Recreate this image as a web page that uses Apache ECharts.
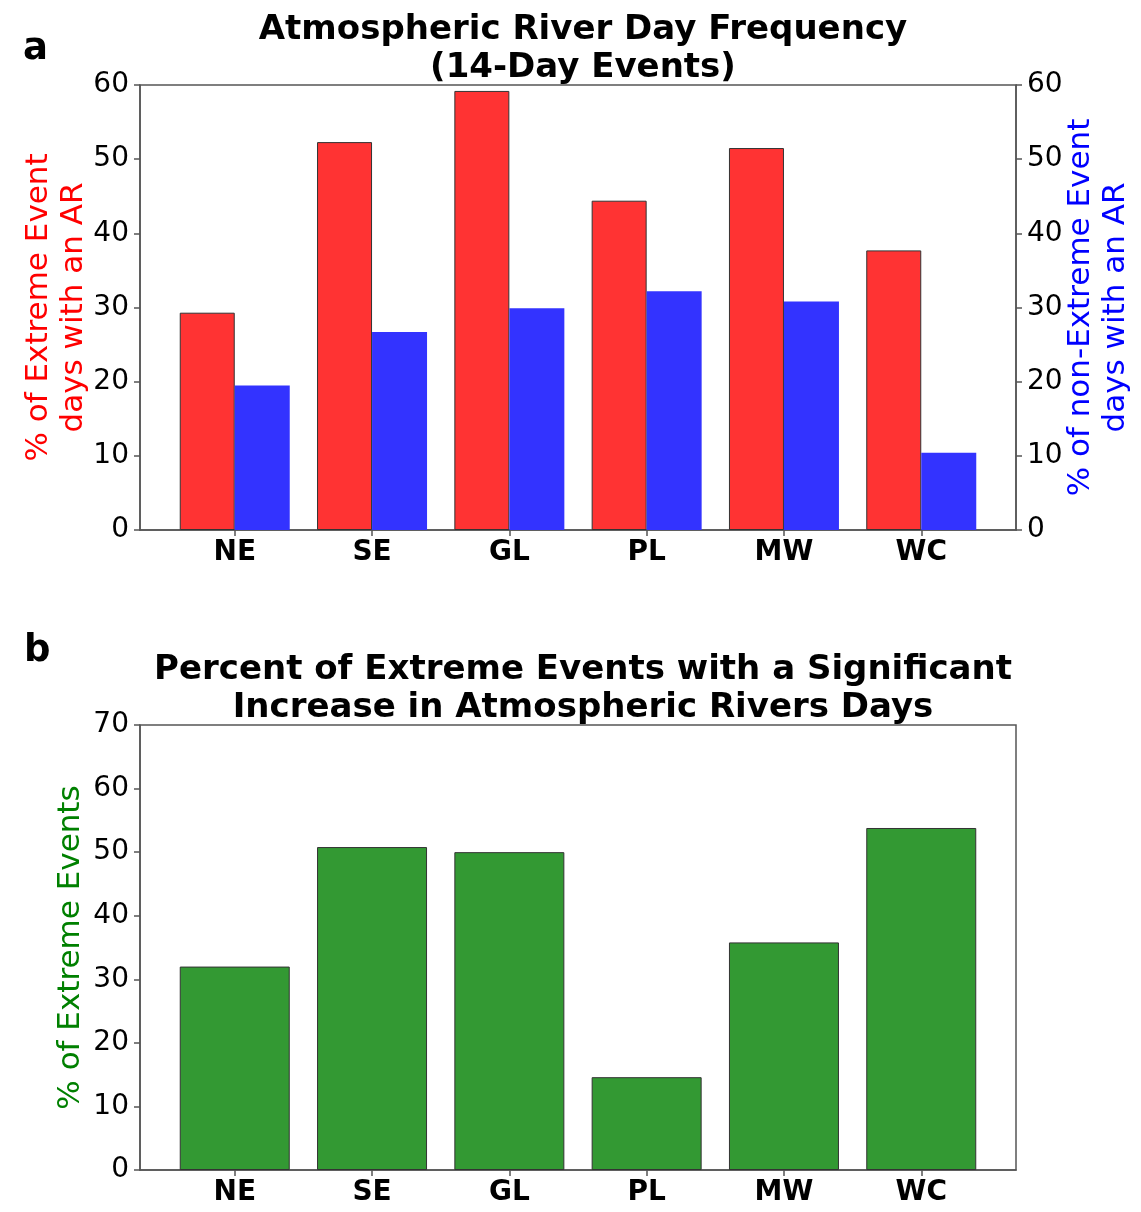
<!DOCTYPE html>
<html>
<head>
<meta charset="utf-8">
<script src="https://cdn.jsdelivr.net/npm/echarts@6/dist/echarts.min.js"></script>
<style>
  html, body { margin: 0; padding: 0; background: #fff; }
  #chart { width: 1141px; height: 1212px; }
</style>
</head>
<body>
<div id="chart"></div>
<script>
// regions on the x axis
var regions = ['NE', 'SE', 'GL', 'PL', 'MW', 'WC'];
// panel a: % of extreme / non-extreme event days with an AR
var extremeAR = [29.3, 52.3, 59.2, 44.4, 51.5, 37.7];
var nonExtremeAR = [19.5, 26.7, 29.9, 32.2, 30.8, 10.4];
// panel b: % of extreme events with a significant increase in AR days
var sigIncrease = [32.0, 50.8, 50.0, 14.6, 35.8, 53.8];
var ticksA = [0, 10, 20, 30, 40, 50, 60];
var ticksB = [0, 10, 20, 30, 40, 50, 60, 70];

var FONT = 'DejaVu Sans';

function pairs(vals) {
    return vals.map(function (v, i) { return [i, v]; });
}

function xAxisFor(gridIndex) {
    var pos = regions.map(function (r, i) { return i; });
    return {
        type: 'value',
        gridIndex: gridIndex,
        min: -0.69,
        max: 5.69,
        minInterval: 1,
        maxInterval: 1,
        splitLine: { show: false },
        axisLine: { show: true, onZero: false, lineStyle: { color: '#555', width: 1.5 } },
        axisTick: { show: true, length: 6, lineStyle: { color: '#555', width: 1.5 }, customValues: pos },
        axisLabel: {
            show: true,
            margin: 9,
            fontFamily: FONT,
            fontSize: 28,
            fontWeight: 'bold',
            color: '#000',
            customValues: pos,
            formatter: function (v) {
                var i = Math.round(v);
                return Math.abs(v - i) < 1e-6 && regions[i] ? regions[i] : '';
            }
        }
    };
}

function yAxisFor(gridIndex, ticks, pos, name, color, gap) {
    return {
        type: 'value',
        gridIndex: gridIndex,
        position: pos,
        min: ticks[0],
        max: ticks[ticks.length - 1],
        interval: ticks[1] - ticks[0],
        splitLine: { show: false },
        axisLine: { show: true, onZero: false, lineStyle: { color: '#555', width: 1.5 } },
        axisTick: { show: true, length: 6, lineStyle: { color: '#555', width: 1.5 } },
        axisLabel: { margin: 11, fontFamily: FONT, fontSize: 28, color: '#000' },
        name: name,
        nameLocation: 'middle',
        nameRotate: 90,
        nameGap: gap,
        nameMoveOverlap: false,
        nameTextStyle: { fontFamily: FONT, fontSize: 31, color: color, lineHeight: 35 }
    };
}

var chart = echarts.init(document.getElementById('chart'));

var option = {
    animation: false,
    backgroundColor: '#fff',
    title: [
        {
            text: 'Atmospheric River Day Frequency\n(14-Day Events)',
            left: 578, top: 6, textAlign: 'center',
            textStyle: { fontFamily: FONT, fontSize: 34, fontWeight: 'bold', color: '#000', lineHeight: 38 }
        },
        {
            text: 'Percent of Extreme Events with a Significant\nIncrease in Atmospheric Rivers Days',
            left: 578, top: 646, textAlign: 'center',
            textStyle: { fontFamily: FONT, fontSize: 34, fontWeight: 'bold', color: '#000', lineHeight: 38 }
        },
        {
            text: 'a', left: 18, top: 26,
            textStyle: { fontFamily: FONT, fontSize: 37, fontWeight: 'bold', color: '#000' }
        },
        {
            text: 'b', left: 19, top: 628,
            textStyle: { fontFamily: FONT, fontSize: 37, fontWeight: 'bold', color: '#000' }
        }
    ],
    grid: [
        { left: 140, right: 125, top: 85, height: 445, outerBoundsMode: 'none', containLabel: false,
          show: true, borderColor: '#555', borderWidth: 1.5, backgroundColor: 'transparent' },
        { left: 140, right: 125, top: 725, height: 445, outerBoundsMode: 'none', containLabel: false,
          show: true, borderColor: '#555', borderWidth: 1.5, backgroundColor: 'transparent' }
    ],
    xAxis: [xAxisFor(0), xAxisFor(1)],
    yAxis: [
        yAxisFor(0, ticksA, 'left', '% of Extreme Event\ndays with an AR', '#ff0000', 49),
        yAxisFor(0, ticksA, 'right', '% of non-Extreme Event\ndays with an AR', '#0000ff', 47),
        yAxisFor(1, ticksB, 'left', '% of Extreme Events', '#008000', 52)
    ],
    series: [
        {
            name: 'Extreme',
            type: 'bar',
            xAxisIndex: 0, yAxisIndex: 0,
            barWidth: 55,
            barGap: '0%',
            itemStyle: { color: '#ff3333', borderColor: '#333', borderWidth: 1 },
            data: pairs(extremeAR)
        },
        {
            name: 'Non-extreme',
            type: 'bar',
            xAxisIndex: 0, yAxisIndex: 1,
            barWidth: 55,
            barGap: '0%',
            itemStyle: { color: '#3333ff' },
            data: pairs(nonExtremeAR)
        },
        {
            name: 'Significant increase',
            type: 'bar',
            xAxisIndex: 1, yAxisIndex: 2,
            barWidth: 110,
            itemStyle: { color: '#339933', borderColor: '#333', borderWidth: 1 },
            data: pairs(sigIncrease)
        }
    ]
};

chart.setOption(option);
</script>
</body>
</html>
